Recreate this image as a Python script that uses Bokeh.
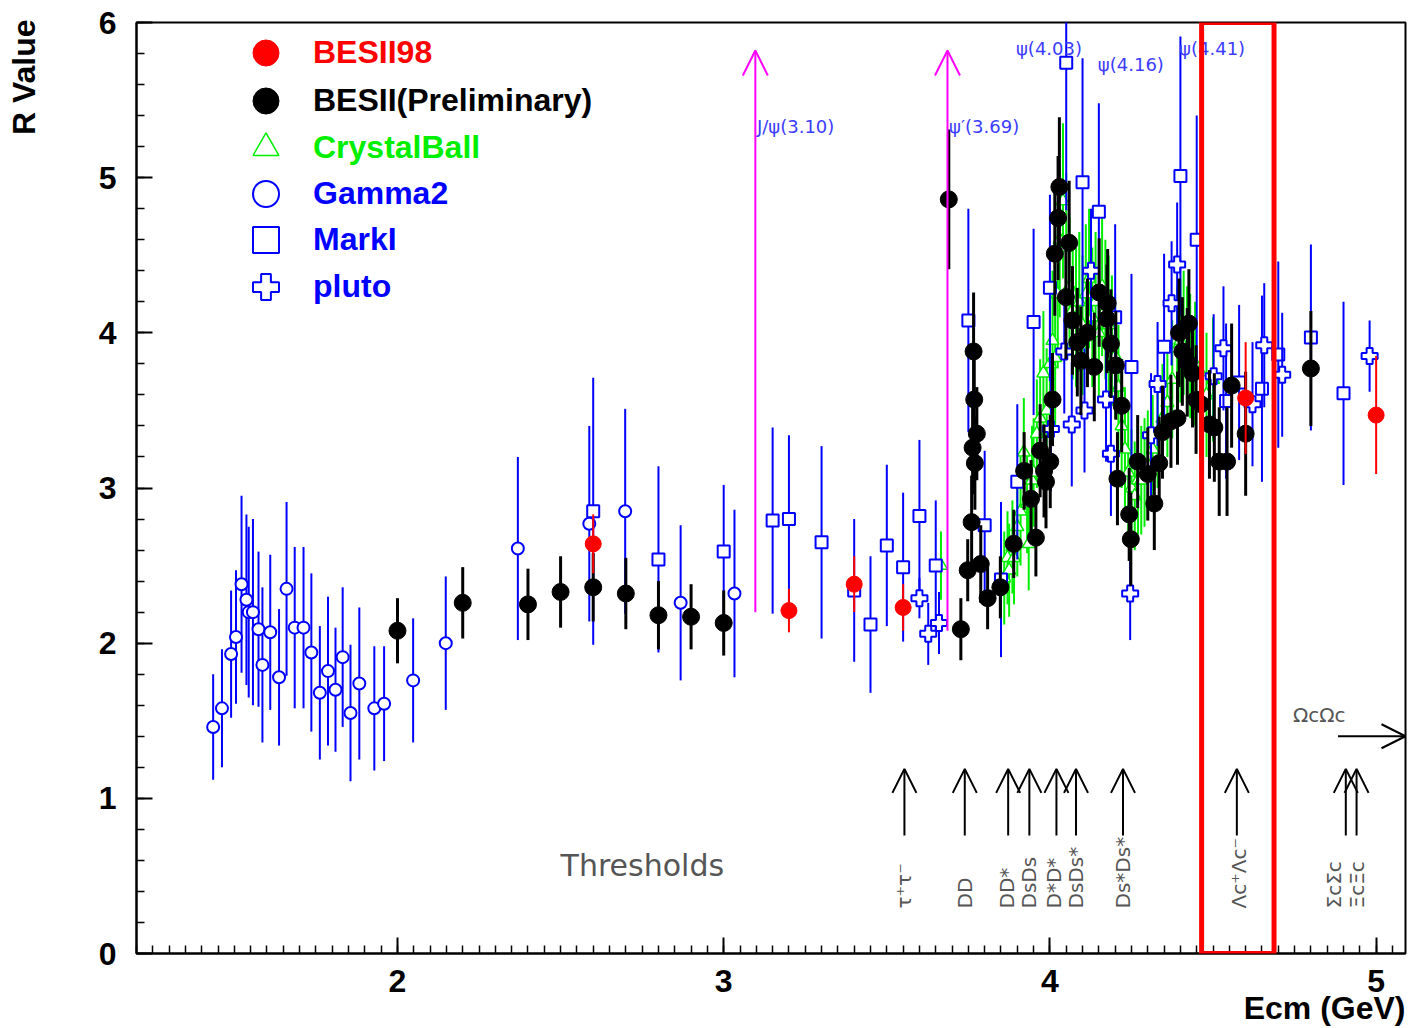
import numpy as np
from math import pi
from bokeh.plotting import figure
from bokeh.models import (ColumnDataSource, Range1d, FixedTicker, Arrow, OpenHead,
                          Title, Legend, LegendItem, BoxAnnotation)
from bokeh.core.properties import value
from bokeh.embed import file_html
from bokeh.resources import INLINE

# ---------------- data ----------------
besii98_e = [2.60, 3.20, 3.40, 3.55, 4.60, 5.00]
besii98_r = [2.64, 2.21, 2.38, 2.23, 3.58, 3.47]
besii98_err = [0.19, 0.14, 0.18, 0.15, 0.36, 0.38]

besii_e = [2.00, 2.20, 2.40, 2.50, 2.60, 2.70, 2.80, 2.90, 3.00, 3.69,
           3.727, 3.748, 3.760, 3.763, 3.766, 3.768, 3.770, 3.776, 3.788, 3.809,
           3.848, 3.889, 3.921, 3.942, 3.957, 3.970, 3.982, 3.988, 4.001, 4.008,
           4.015, 4.025, 4.029, 4.049, 4.059, 4.069, 4.084, 4.095, 4.115, 4.136,
           4.151, 4.175, 4.177, 4.187, 4.202, 4.207, 4.220, 4.243, 4.248, 4.269,
           4.300, 4.320, 4.335, 4.345, 4.371, 4.391, 4.396, 4.406, 4.421, 4.426,
           4.437, 4.448, 4.463, 4.489, 4.504, 4.519, 4.543, 4.557, 4.600, 4.800]
besii_r = [2.08, 2.26, 2.25, 2.33, 2.36, 2.32, 2.18, 2.17, 2.13, 4.86,
           2.09, 2.47, 2.78, 3.26, 3.88, 3.57, 3.16, 3.35, 2.51, 2.29,
           2.36, 2.64, 3.11, 2.93, 2.68, 3.24, 3.11, 3.04, 3.17, 3.57,
           4.51, 4.74, 4.94, 4.23, 4.58, 4.08, 3.94, 3.82, 4.00, 3.78,
           4.26, 4.09, 4.19, 3.93, 3.79, 3.06, 3.53, 2.83, 2.67, 3.17,
           3.09, 2.90, 3.16, 3.36, 3.43, 3.45, 4.00, 3.88, 3.81, 4.06,
           3.74, 3.57, 3.54, 3.41, 3.39, 3.17, 3.17, 3.66, 3.35, 3.77]
besii_err = [0.21, 0.23, 0.23, 0.23, 0.22, 0.23, 0.22, 0.21, 0.21, 0.45,
             0.20, 0.20, 0.30, 0.30, 0.38, 0.30, 0.30, 0.30, 0.25, 0.20,
             0.20, 0.22, 0.25, 0.25, 0.25, 0.30, 0.30, 0.30, 0.30, 0.30,
             0.40, 0.40, 0.45, 0.40, 0.40, 0.35, 0.35, 0.35, 0.35, 0.35,
             0.35, 0.35, 0.35, 0.35, 0.35, 0.30, 0.30, 0.30, 0.30, 0.30,
             0.30, 0.30, 0.30, 0.30, 0.30, 0.30, 0.35, 0.35, 0.35, 0.35,
             0.35, 0.35, 0.35, 0.35, 0.35, 0.35, 0.35, 0.40, 0.40, 0.37]

crystal_e = [3.666, 3.850, 3.860, 3.870, 3.875, 3.885, 3.890, 3.900, 3.910, 3.920,
             3.930, 3.935, 3.945, 3.950, 3.960, 3.970, 3.980, 3.990, 4.000, 4.008,
             4.016, 4.024, 4.030, 4.040, 4.050, 4.060, 4.070, 4.080, 4.090, 4.100,
             4.110, 4.120, 4.130, 4.140, 4.150, 4.160, 4.170, 4.180, 4.190, 4.200,
             4.210, 4.220, 4.230, 4.240, 4.250, 4.260, 4.270, 4.280, 4.290, 4.300,
             4.315, 4.330, 4.345, 4.360, 4.375, 4.390, 4.400, 4.410, 4.420, 4.430,
             4.445, 4.460, 4.480, 4.500]
crystal_r = [2.50, 2.35, 2.42, 2.55, 2.47, 2.62, 2.55, 2.75, 2.85, 3.23,
             2.90, 2.64, 3.05, 3.10, 3.35, 3.45, 3.74, 3.50, 3.80, 3.95,
             3.84, 4.25, 4.60, 4.85, 4.55, 4.30, 4.15, 4.10, 4.20, 4.05,
             4.25, 4.35, 4.10, 4.20, 4.00, 4.30, 4.15, 4.05, 3.95, 3.85,
             3.65, 3.40, 3.25, 3.10, 3.00, 2.95, 3.05, 3.05, 3.10, 3.15,
             3.25, 3.35, 3.45, 3.55, 3.70, 3.90, 3.95, 4.00, 3.90, 3.85,
             3.80, 3.75, 3.60, 3.70]
crystal_err = [0.22, 0.30, 0.30, 0.30, 0.30, 0.30, 0.30, 0.32, 0.35, 0.35,
               0.32, 0.30, 0.35, 0.35, 0.35, 0.38, 0.40, 0.40, 0.42, 0.45,
               0.45, 0.48, 0.50, 0.50, 0.48, 0.45, 0.45, 0.45, 0.45, 0.45,
               0.45, 0.45, 0.45, 0.45, 0.45, 0.45, 0.45, 0.45, 0.42, 0.40,
               0.40, 0.40, 0.40, 0.40, 0.38, 0.35, 0.35, 0.35, 0.35, 0.35,
               0.35, 0.35, 0.35, 0.35, 0.38, 0.40, 0.40, 0.40, 0.40, 0.40,
               0.40, 0.40, 0.40, 0.40]

gamma2_e = [1.435, 1.462, 1.490, 1.505, 1.522, 1.537, 1.544, 1.557, 1.574, 1.586,
            1.610, 1.637, 1.660, 1.685, 1.712, 1.736, 1.762, 1.787, 1.810, 1.832,
            1.856, 1.883, 1.929, 1.959, 2.048, 2.148, 2.369, 2.588, 2.698, 2.868,
            3.033]
gamma2_r = [1.46, 1.58, 1.93, 2.04, 2.38, 2.28, 2.20, 2.20, 2.09, 1.86,
            2.07, 1.78, 2.35, 2.10, 2.10, 1.94, 1.68, 1.82, 1.70, 1.91,
            1.55, 1.74, 1.58, 1.61, 1.76, 2.00, 2.61, 2.77, 2.85, 2.26,
            2.32]
gamma2_err = [0.34, 0.38, 0.41, 0.43, 0.57, 0.55, 0.55, 0.60, 0.50, 0.50,
              0.50, 0.44, 0.56, 0.52, 0.52, 0.51, 0.43, 0.48, 0.40, 0.45,
              0.44, 0.49, 0.40, 0.37, 0.40, 0.43, 0.59, 0.63, 0.66, 0.50,
              0.54]

marki_e = [2.60, 2.80, 3.00, 3.15, 3.20, 3.30, 3.40, 3.45, 3.50, 3.55,
           3.60, 3.65, 3.75, 3.80, 3.85, 3.90, 3.95, 4.00, 4.05, 4.10,
           4.15, 4.20, 4.25, 4.35, 4.40, 4.45, 4.54, 4.58, 4.65, 4.70,
           4.80, 4.90]
marki_r = [2.85, 2.54, 2.59, 2.79, 2.80, 2.65, 2.34, 2.12, 2.63, 2.49,
           2.82, 2.50, 4.08, 2.76, 2.41, 3.04, 4.07, 4.29, 5.74, 4.97,
           4.78, 4.10, 3.78, 3.91, 5.01, 4.60, 3.56, 3.68, 3.64, 3.86,
           3.97, 3.61]
marki_err = [0.86, 0.60, 0.43, 0.60, 0.54, 0.62, 0.46, 0.44, 0.52, 0.48,
             0.49, 0.42, 0.72, 0.48, 0.50, 0.50, 0.60, 0.60, 0.95, 0.80,
             0.70, 0.60, 0.60, 0.60, 0.90, 0.80, 0.50, 0.50, 0.60, 0.60,
             0.60, 0.59]

pluto_e = [3.600, 3.627, 3.660, 4.003, 4.044, 4.067, 4.106, 4.126, 4.172, 4.187,
           4.246, 4.310, 4.330, 4.373, 4.390, 4.502, 4.532, 4.621, 4.657, 4.712,
           4.980]
pluto_r = [2.29, 2.06, 2.13, 3.38, 3.88, 3.41, 3.50, 4.40, 3.57, 3.22,
           2.32, 3.34, 3.67, 4.19, 4.44, 3.72, 3.90, 3.54, 3.92, 3.73,
           3.85]
pluto_err = [0.13, 0.20, 0.20, 0.40, 0.40, 0.40, 0.40, 0.40, 0.40, 0.40,
             0.30, 0.40, 0.40, 0.40, 0.40, 0.40, 0.40, 0.40, 0.40, 0.40,
             0.23]

resonance_e = [3.097, 3.686]
resonance_lo = [2.20, 2.08]
resonance_lbl = ["J/\u03c8(3.10)", "\u03c8\u2032(3.69)"]
psi_lbl_e = [3.896, 4.147, 4.396]
psi_lbl_r = [5.83, 5.73, 5.83]
psi_lbl = ["\u03c8(4.03)", "\u03c8(4.16)", "\u03c8(4.41)"]

threshold_e = [3.554, 3.739, 3.872, 3.937, 4.020, 4.080, 4.224, 4.573, 4.907, 4.940]
threshold_lbl_e = [3.554, 3.739, 3.868, 3.937, 4.012, 4.080, 4.224, 4.579, 4.870, 4.940]
threshold_lbl = ["\u03c4\u207a\u03c4\u207b", "DD", "DD*", "DsDs", "D*D*", "DsDs*",
                 "Ds*Ds*", "\u039bc\u207a\u039bc\u207b", "\u03a3c\u03a3c", "\u039ec\u039ec"]
omega_threshold = 5.39

# ---------------- figure ----------------
p = figure(width=1408, height=1028, x_range=Range1d(1.2, 5.09), y_range=Range1d(0, 6),
           output_backend="svg", toolbar_location=None,
           min_border_left=136, min_border_right=3, min_border_top=22, min_border_bottom=75)
p.grid.visible = False
p.outline_line_color = "black"
p.outline_line_width = 2
p.background_fill_color = "white"

p.xaxis.ticker = FixedTicker(ticks=[2, 3, 4, 5],
                             minor_ticks=[round(1.2 + 0.05 * i, 2) for i in range(79)])
p.yaxis.ticker = FixedTicker(ticks=[0, 1, 2, 3, 4, 5, 6],
                             minor_ticks=[round(0.2 * i, 1) for i in range(31)])
for ax in (p.xaxis[0], p.yaxis[0]):
    ax.major_tick_in = 16
    ax.major_tick_out = 0
    ax.minor_tick_in = 8
    ax.minor_tick_out = 0
    ax.axis_line_width = 2
    ax.major_tick_line_width = 2
    ax.minor_tick_line_width = 1.5
    ax.major_label_text_font = "Liberation Sans"
    ax.major_label_text_font_style = "bold"
    ax.major_label_text_font_size = "32px"
    ax.major_label_text_color = "black"
p.xaxis.major_label_standoff = 16
p.yaxis.major_label_standoff = 20
# blank spacer label that pushes the "R Value" title outward
p.yaxis.axis_label = " "
p.yaxis.axis_label_text_font_size = "10px"
p.yaxis.axis_label_standoff = 33

BLUE = "#0000ff"
GREEN = "#00ee00"


def series(e, r, err, color, marker, size, err_w, fill, line_w):
    src = ColumnDataSource(dict(x=e, y=r,
                                lo=[a - b for a, b in zip(r, err)],
                                hi=[a + b for a, b in zip(r, err)]))
    p.segment(x0="x", y0="lo", x1="x", y1="hi", source=src, line_color=color, line_width=err_w)
    return p.scatter("x", "y", source=src, marker=marker, size=size, fill_color=fill,
                     line_color=color, line_width=line_w)


r_cb = series(crystal_e, crystal_r, crystal_err, GREEN, "triangle", 13, 2, "white", 1.5)
r_g2 = series(gamma2_e, gamma2_r, gamma2_err, BLUE, "circle", 12, 2, "white", 2)
r_mk = series(marki_e, marki_r, marki_err, BLUE, "square", 12, 2, "white", 2)
r_pl = series(pluto_e, pluto_r, pluto_err, BLUE, "plus", 16, 2, "white", 2)
r_bk = series(besii_e, besii_r, besii_err, "black", "circle", 17, 3, "black", 1)
r_rd = series(besii98_e, besii98_r, besii98_err, "red", "circle", 16, 2, "red", 1)

# ---------------- resonance arrows & labels ----------------
res_src = ColumnDataSource(dict(x=resonance_e, y0=resonance_lo, y1=[5.82] * len(resonance_e)))
p.add_layout(Arrow(end=OpenHead(size=25, line_color="magenta", line_width=2),
                   x_start="x", y_start="y0", x_end="x", y_end="y1", source=res_src,
                   line_color="magenta", line_width=2))
p.text(x=[e + 0.005 for e in resonance_e], y=[5.33] * 2, text=resonance_lbl,
       text_font=value("DejaVu Sans"), text_font_size="18px", text_color="#3c3cff",
       text_baseline="middle", text_align="left")
p.text(x=psi_lbl_e, y=psi_lbl_r, text=psi_lbl,
       text_font=value("DejaVu Sans"), text_font_size="18px", text_color="#3c3cff",
       text_baseline="middle", text_align="left")

# ---------------- thresholds ----------------
thr_src = ColumnDataSource(dict(x=threshold_e, y0=[0.76] * len(threshold_e),
                                y1=[1.19] * len(threshold_e)))
p.add_layout(Arrow(end=OpenHead(size=24, line_color="black", line_width=2),
                   x_start="x", y_start="y0", x_end="x", y_end="y1", source=thr_src,
                   line_color="black", line_width=2))
p.text(x=threshold_lbl_e, y=[0.29] * len(threshold_lbl_e), text=threshold_lbl, angle=pi / 2,
       text_font=value("DejaVu Sans"), text_font_size="20px", text_color="#555555",
       text_baseline="middle", text_align="left")
p.add_layout(Arrow(end=OpenHead(size=24, line_color="black", line_width=2),
                   x_start=4.883, y_start=1.40, x_end=5.09, y_end=1.40,
                   line_color="black", line_width=2))
p.text(x=[4.745], y=[1.54], text=["\u03a9c\u03a9c"], text_font=value("DejaVu Sans"),
       text_font_size="20px", text_color="#555555", text_baseline="middle", text_align="left")
p.text(x=[2.5], y=[0.57], text=["Thresholds"], text_font=value("DejaVu Sans"),
       text_font_size="30px", text_color="#555555", text_baseline="middle", text_align="left")

# ---------------- axis titles ----------------
p.add_layout(Title(text="R Value", align="right", vertical_align="top",
                   text_font="Liberation Sans", text_font_style="bold",
                   text_font_size="32px", text_color="black",
                   standoff=10, offset=-3), "left")
p.add_layout(Title(text="Ecm (GeV)", align="right", text_font="Liberation Sans",
                   text_font_style="bold", text_font_size="32px", text_color="black",
                   standoff=-14), "below")

# ---------------- legends ----------------
leg_rows = [("BESII98", r_rd, "red"), ("BESII(Preliminary)", r_bk, "black"),
            ("CrystalBall", r_cb, GREEN), ("Gamma2", r_g2, BLUE),
            ("MarkI", r_mk, BLUE), ("pluto", r_pl, BLUE)]
row_centers = [53, 101, 148, 194, 240, 287]
for (name, rend, col), cy in zip(leg_rows, row_centers):
    leg = Legend(items=[LegendItem(label=name, renderers=[rend])],
                 location=(97, 953 - cy - 32), glyph_width=65, glyph_height=65,
                 label_height=65, label_standoff=15, padding=0, margin=0, spacing=0,
                 border_line_alpha=0, background_fill_alpha=0,
                 label_text_font="Liberation Sans", label_text_font_style="bold",
                 label_text_font_size="32px", label_text_color=col)
    p.add_layout(leg)

# ---------------- highlight box ----------------
p.add_layout(BoxAnnotation(left=4.465, right=4.687,
                           fill_alpha=0, line_color="red", line_width=5, line_alpha=1))

open("out.html", "w").write(file_html(p, INLINE))
